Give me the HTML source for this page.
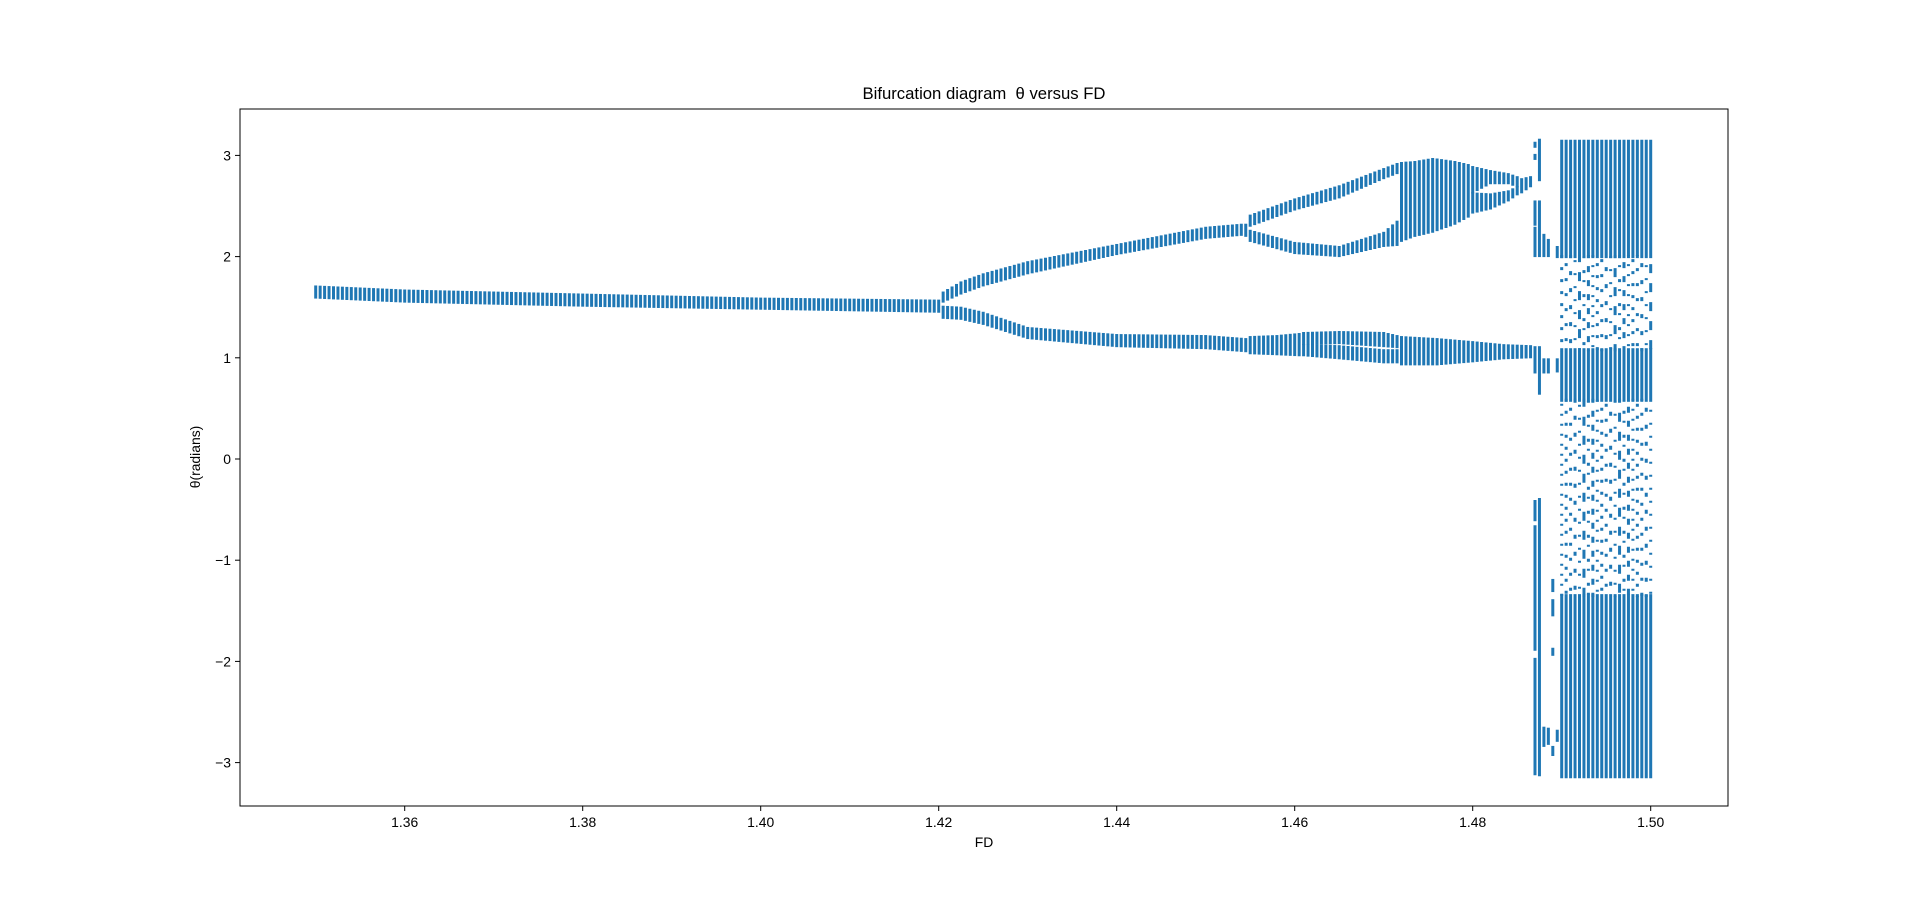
<!DOCTYPE html>
<html><head><meta charset="utf-8"><style>
body{margin:0;background:#fff;}
svg{display:block;font-family:"Liberation Sans","DejaVu Sans",sans-serif;}
</style></head><body>
<svg id="chart" width="1920" height="906" viewBox="0 0 1920 906">
<text x="984" y="99" text-anchor="middle" font-size="16.7" fill="#000" style="white-space:pre">Bifurcation diagram  θ versus FD</text>
<g id="marks"></g>
<rect x="240" y="109" width="1488" height="697" fill="none" stroke="#000" stroke-width="1"/>
<g id="xticks"></g>
<g id="yticks"></g>
<text x="984" y="847" text-anchor="middle" font-size="13.9">FD</text>
<text transform="translate(200,457) rotate(-90)" text-anchor="middle" font-size="13.9">θ(radians)</text>
</svg>
<script>
// ---- data ----
const xTicks = [1.36,1.38,1.40,1.42,1.44,1.46,1.48,1.50];
const xTickLabels = ["1.36","1.38","1.40","1.42","1.44","1.46","1.48","1.50"];
const yTicks = [-3,-2,-1,0,1,2,3];
const yTickLabels = ["\u22123","\u22122","\u22121","0","1","2","3"];
// branch envelopes: FD knots with lower/upper theta
const p1Fd = [1.35,1.36,1.38,1.40,1.42];
const p1Lo = [1.60,1.56,1.52,1.49,1.46];
const p1Hi = [1.70,1.66,1.62,1.58,1.56];
const u1Fd = [1.4205,1.4225,1.425,1.43,1.44,1.45,1.454];
const u1Lo = [1.56,1.64,1.72,1.84,2.03,2.19,2.22];
const u1Hi = [1.64,1.74,1.82,1.94,2.11,2.28,2.31];
const l1Fd = [1.4205,1.4225,1.425,1.43,1.44,1.45,1.4545];
const l1Lo = [1.40,1.39,1.34,1.20,1.12,1.10,1.07];
const l1Hi = [1.50,1.49,1.44,1.29,1.22,1.21,1.18];
const l2aFd = [1.455,1.458,1.4605];
const l2aLo = [1.05,1.04,1.03];
const l2aHi = [1.20,1.21,1.23];
const l2bFd = [1.461,1.465,1.47,1.4715];
const l2bLo = [1.14,1.15,1.12,1.11];
const l2bHi = [1.24,1.25,1.24,1.21];
const l2cFd = [1.461,1.465,1.47,1.4715];
const l2cLo = [1.03,1.00,0.96,0.96];
const l2cHi = [1.12,1.11,1.07,1.07];
const l3Fd = [1.472,1.476,1.48,1.4835,1.4865];
const l3Lo = [0.94,0.94,0.97,1.00,1.01];
const l3Hi = [1.20,1.18,1.15,1.12,1.11];
const uuFd = [1.4545,1.455,1.46,1.465,1.47,1.4715];
const uuLo = [2.21,2.31,2.47,2.59,2.78,2.83];
const uuHi = [2.31,2.40,2.56,2.69,2.86,2.91];
const ulFd = [1.455,1.46,1.465,1.47,1.4715];
const ulLo = [2.16,2.04,2.01,2.11,2.12];
const ulHi = [2.25,2.13,2.09,2.23,2.34];
const ucFd = [1.472,1.4735,1.4755,1.478,1.4795];
const ucLo = [2.16,2.21,2.25,2.33,2.40];
const ucHi = [2.92,2.93,2.96,2.93,2.90];
const ucaFd = [1.48,1.482,1.484,1.485];
const ucaLo = [2.64,2.73,2.73,2.70];
const ucaHi = [2.88,2.84,2.81,2.78];
const ucbFd = [1.48,1.482,1.484,1.485];
const ucbLo = [2.44,2.48,2.56,2.62];
const ucbHi = [2.62,2.61,2.64,2.68];
const umFd = [1.4855,1.4865];
const umLo = [2.64,2.70];
const umHi = [2.76,2.78];
// chaotic onset columns: FD and solid theta ranges
const chaosFd = [1.487,1.4875,1.488,1.4885,1.489,1.4895];
const chaosBands = [
  [[2.54,2.32],[2.28,2.01],[1.10,0.86],[-0.42,-0.60],[-0.67,-1.88],[-1.98,-3.11],[3.12,3.09],[3.00,2.97]],
  [[3.15,2.76],[2.54,2.01],[1.10,0.65],[-0.40,-3.12]],
  [[2.21,2.01],[0.98,0.86],[-2.66,-2.83]],
  [[2.16,2.01],[0.98,0.86],[-2.67,-2.81]],
  [[-1.20,-1.30],[-1.40,-1.54],[-1.88,-1.93],[-2.85,-2.92]],
  [[2.09,2.00],[0.98,0.87],[-2.69,-2.78]]
];
// fully chaotic region
const denseFd = [1.490,1.4905,1.491,1.4915,1.492,1.4925,1.493,1.4935,1.494,1.4945,1.495,1.4955,1.496,1.4965,1.497,1.4975,1.498,1.4985,1.499,1.4995,1.500];
const denseSolid = [[3.14,2.0],[1.08,0.58],[-1.35,-3.14]];
const denseSpeckle = [[2.0,1.08],[0.58,-1.35]];

// ---- scales ----
const X0=240, X1=1728, Y0=109, Y1=806;
const xs = v => 1472.7 + (v-1.48)*8900;
const ys = v => 459 - v*101.2;
const NS='http://www.w3.org/2000/svg';
const marks=document.getElementById('marks');
const C='#1f77b4';

function col(fd, lo, hi, name, dash, off){
  const r=document.createElementNS(NS,'line');
  const x=xs(fd);
  r.setAttribute('x1',x); r.setAttribute('x2',x);
  r.setAttribute('y1',ys(Math.max(lo,hi))-1.5);
  r.setAttribute('y2',ys(Math.min(lo,hi))+1.5);
  r.setAttribute('stroke',C); r.setAttribute('stroke-width','3');
  if(dash){ r.setAttribute('stroke-dasharray',dash); r.setAttribute('stroke-dashoffset',off); }
  
  
  marks.appendChild(r);
}
function lerp(fds, vals, f){
  for(let i=0;i<fds.length-1;i++){
    if(f>=fds[i]-1e-9 && f<=fds[i+1]+1e-9){
      const t=(f-fds[i])/(fds[i+1]-fds[i]); return vals[i]+t*(vals[i+1]-vals[i]);
    }
  }
  return vals[vals.length-1];
}
function branch(fds, lo, hi, name){
  const a=Math.round(fds[0]*2000), b=Math.round(fds[fds.length-1]*2000);
  for(let k=a;k<=b;k++){
    const f=k/2000;
    col(f, lerp(fds,lo,f), lerp(fds,hi,f), name);
  }
}
branch(p1Fd,p1Lo,p1Hi,'period1-column');
branch(u1Fd,u1Lo,u1Hi,'period2-upper-column');
branch(l1Fd,l1Lo,l1Hi,'period2-lower-column');
branch(l2aFd,l2aLo,l2aHi,'lower-branch-column');
branch(l2bFd,l2bLo,l2bHi,'lower-branch-upper-column');
branch(l2cFd,l2cLo,l2cHi,'lower-branch-lower-column');
branch(l3Fd,l3Lo,l3Hi,'lower-band-column');
branch(uuFd,uuLo,uuHi,'period4-top-column');
branch(ulFd,ulLo,ulHi,'period4-mid-column');
branch(ucFd,ucLo,ucHi,'upper-band-column');
branch(ucaFd,ucaLo,ucaHi,'upper-split-top-column');
branch(ucbFd,ucbLo,ucbHi,'upper-split-bottom-column');
branch(umFd,umLo,umHi,'upper-merge-column');
chaosFd.forEach((f,i)=>chaosBands[i].forEach(b=>col(f,b[0],b[1],'chaos-onset-column')));
const dashes=['3 9','2 11','6 8','3 12','9 10','2 8','4 13','3 7 2 12'];
denseFd.forEach((f,i)=>{
  denseSolid.forEach(b=>col(f,b[0],b[1],'chaos-column'));
  denseSpeckle.forEach((b,j)=>col(f,b[0],b[1],'chaos-speckle', dashes[(i*3+j*5)%dashes.length], (i*7+j*5)%13));
});

// ---- axes ----
const xg=document.getElementById('xticks');
xTicks.forEach((v,i)=>{
  const l=document.createElementNS(NS,'line');
  l.setAttribute('x1',xs(v));l.setAttribute('x2',xs(v));l.setAttribute('y1',Y1);l.setAttribute('y2',Y1+5);
  l.setAttribute('stroke','#000');
  
  
  xg.appendChild(l);
  const t=document.createElementNS(NS,'text');
  t.setAttribute('x',xs(v));t.setAttribute('y',Y1+21);t.setAttribute('text-anchor','middle');t.setAttribute('font-size','13.9');
  t.textContent=xTickLabels[i];
  
  
  xg.appendChild(t);
});
const yg=document.getElementById('yticks');
yTicks.forEach((v,i)=>{
  const l=document.createElementNS(NS,'line');
  l.setAttribute('x1',X0-5);l.setAttribute('x2',X0);l.setAttribute('y1',ys(v));l.setAttribute('y2',ys(v));
  l.setAttribute('stroke','#000');
  
  
  yg.appendChild(l);
  const t=document.createElementNS(NS,'text');
  t.setAttribute('x',X0-9);t.setAttribute('y',ys(v)+5);t.setAttribute('text-anchor','end');t.setAttribute('font-size','13.9');
  t.textContent=yTickLabels[i];
  
  
  yg.appendChild(t);
});
</script>
</body></html>
